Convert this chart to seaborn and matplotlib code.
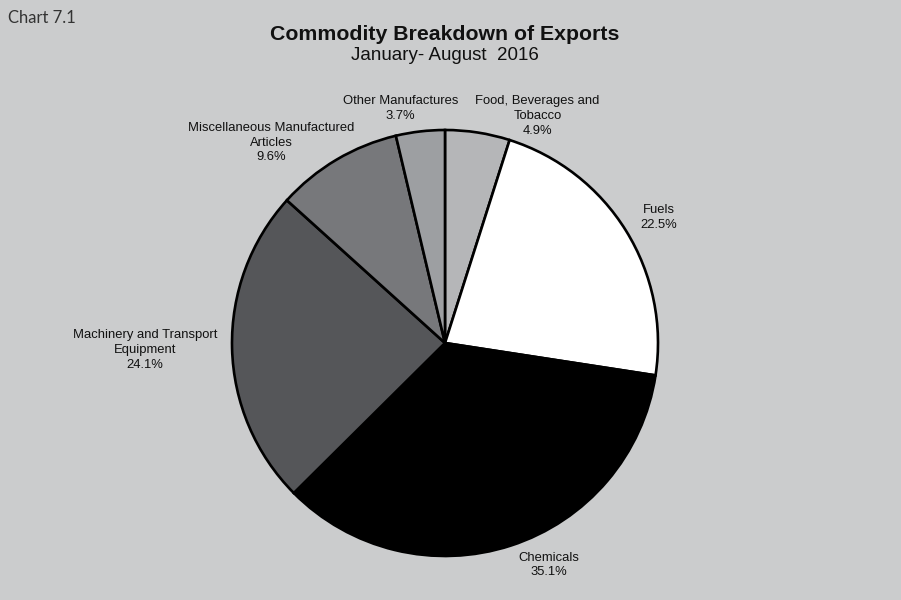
import matplotlib
matplotlib.use("Agg")
import matplotlib.pyplot as plt
import seaborn as sns

categories = ["Food, Beverages and\nTobacco", "Fuels", "Chemicals",
              "Machinery and Transport\nEquipment",
              "Miscellaneous Manufactured\nArticles", "Other Manufactures"]
shares = [4.9, 22.5, 35.1, 24.1, 9.6, 3.7]
slice_colors = ["#b5b6b8", "#ffffff", "#000000", "#555659", "#77787b", "#9d9fa2"]
# label anchor points, in units of the pie radius
label_xy = [(0.435, 1.066), (1.005, 0.59), (0.488, -1.042), (-1.408, -0.033),
            (-0.814, 0.94), (-0.21, 1.10)]

sns.set_style("white")
plt.rcParams["font.family"] = ["Liberation Sans", "DejaVu Sans"]

bg = "#cbcccd"
W, H = 901, 600
fig = plt.figure(figsize=(W / 100, H / 100), dpi=100, facecolor=bg)

cx, cy, R = 445, 343, 213
left = cx - 1.6 * R
width = 3.2 * R
top = cy - 1.2 * R
height = 2.4 * R
ax = fig.add_axes([left / W, 1 - (top + height) / H, width / W, height / H])
ax.set_facecolor(bg)

ax.pie(shares, colors=slice_colors, startangle=90, counterclock=False,
       radius=1.0, normalize=True,
       wedgeprops=dict(edgecolor="black", linewidth=1.9))
ax.set_xlim(-1.6, 1.6)
ax.set_ylim(-1.2, 1.2)
ax.set_aspect("equal")
ax.axis("off")

for name, val, (x, y) in zip(categories, shares, label_xy):
    ax.text(x, y, f"{name}\n{val:.1f}%", ha="center", va="center",
            fontsize=9.4, color="#111111", linespacing=1.3)

fig.text(445 / W, 1 - 34 / H, "Commodity Breakdown of Exports", ha="center",
         va="center", fontsize=15.3, fontweight="bold", color="#111111")
fig.text(445 / W, 1 - 56 / H, "January- August  2016", ha="center",
         va="center", fontsize=13.5, color="#111111")
fig.text(8 / W, 1 - 18 / H, "Chart 7.1", ha="left", va="center",
         fontsize=12, color="#333333", family=["Lato", "DejaVu Sans"])

fig.savefig("out.png", dpi=100, facecolor=bg)
